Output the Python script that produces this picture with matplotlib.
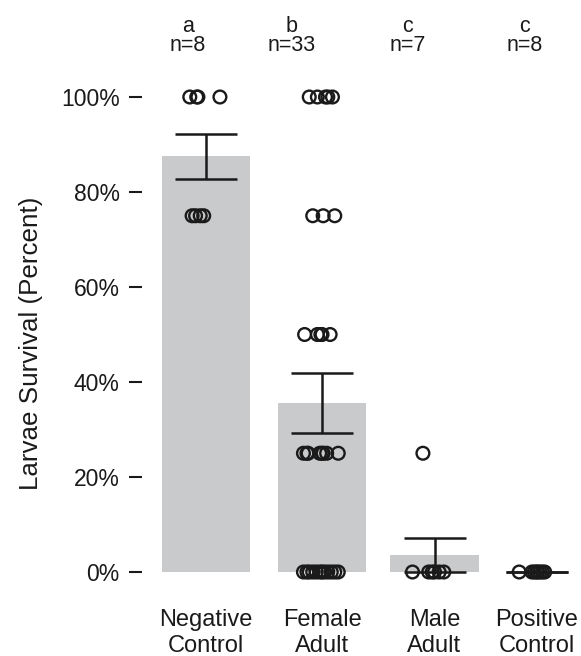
import matplotlib
matplotlib.use("Agg")
import matplotlib.pyplot as plt
import matplotlib.transforms as mtransforms
import numpy as np

plt.rcParams['font.family'] = ['Liberation Sans', 'DejaVu Sans']

# ---- data ----
categories = ["Negative\nControl", "Female\nAdult", "Male\nAdult", "Positive\nControl"]
letters = ["a", "b", "c", "c"]
survival = [
    [100, 100, 100, 100, 75, 75, 75, 75],
    [100] * 5 + [75] * 3 + [50] * 5 + [25] * 8 + [0] * 12,
    [25, 0, 0, 0, 0, 0, 0],
    [0, 0, 0, 0, 0, 0, 0, 0],
]
# horizontal jitter offsets
jitter = [
    [-0.14, -0.08, -0.07, 0.12, -0.12, -0.09, -0.05, -0.02],
    [-0.11, -0.04, 0.03, 0.05, 0.09,
     -0.08, 0.01, 0.11,
     -0.15, -0.04, -0.01, 0.0, 0.07,
     -0.16, -0.13, -0.12, -0.02, 0.0, 0.01, 0.04, 0.14,
     -0.16, -0.13, -0.11, -0.08, -0.05, -0.02, 0.0, 0.02, 0.05, 0.08, 0.11, 0.14],
    [-0.1, -0.19, -0.05, -0.02, 0.0, 0.04, 0.08],
    [-0.15, -0.04, -0.02, 0.0, 0.01, 0.03, 0.05, 0.07],
]

# ---- layout ----
xpos = [0, 1, 1.97, 2.85]
letter_x = [-0.155, 0.74, 1.74, 2.75]

W, H = 581, 656
fig = plt.figure(figsize=(W / 100, H / 100), dpi=100)
ax_left, ax_right, ax_top, ax_bot = 142, 581, 60, 585
ax = fig.add_axes([ax_left / W, (H - ax_bot) / H, (ax_right - ax_left) / W, (ax_bot - ax_top) / H])

means = [np.mean(v) for v in survival]
sems = [np.std(v, ddof=1) / np.sqrt(len(v)) for v in survival]

ax.bar(xpos, means, width=0.76, color="#c9cacc", zorder=1)
ax.errorbar(xpos, means, yerr=sems, fmt="none", ecolor="#1a1a1a", elinewidth=1.8,
            capsize=22, capthick=1.8, zorder=2)

for i, vals in enumerate(survival):
    xs = [xpos[i] + j for j in jitter[i]]
    ax.scatter(xs, vals, s=84, facecolors="none", edgecolors="#1a1a1a",
               linewidths=1.7, zorder=3)

ax.set_xlim(-0.552, 3.233)
px_per = (572 - 97) / 100.0
ax.set_ylim(-(ax_bot - 572) / px_per, 100 + (97 - ax_top) / px_per)

ax.set_yticks([0, 20, 40, 60, 80, 100])
ax.set_yticklabels(["0%", "20%", "40%", "60%", "80%", "100%"])
ax.tick_params(axis="y", direction="out", length=9.5, width=1.5, pad=6.5,
               labelsize=16.5, color="#1a1a1a", labelcolor="#1a1a1a")
ax.set_xticks(xpos)
ax.set_xticklabels(categories)
ax.tick_params(axis="x", length=0, pad=17, labelsize=17, labelcolor="#1a1a1a")
for lab in ax.get_xticklabels():
    lab.set_linespacing(1.27)

for s in ax.spines.values():
    s.set_visible(False)

ax.set_ylabel("Larvae Survival (Percent)", fontsize=18.7, color="#1a1a1a")
ax.yaxis.label.set_va("center")
ax.yaxis.set_label_coords((31 - ax_left) / (ax_right - ax_left), (ax_bot - 343) / (ax_bot - ax_top))

trans = mtransforms.blended_transform_factory(ax.transData, fig.transFigure)
for i, lx in enumerate(letter_x):
    ax.text(lx, 1 - 36 / H, f"{letters[i]}\nn={len(survival[i])}", transform=trans,
            ha="center", va="center", multialignment="center", fontsize=15.5,
            linespacing=0.93, color="#1a1a1a")

fig.savefig("out.png", dpi=100)
